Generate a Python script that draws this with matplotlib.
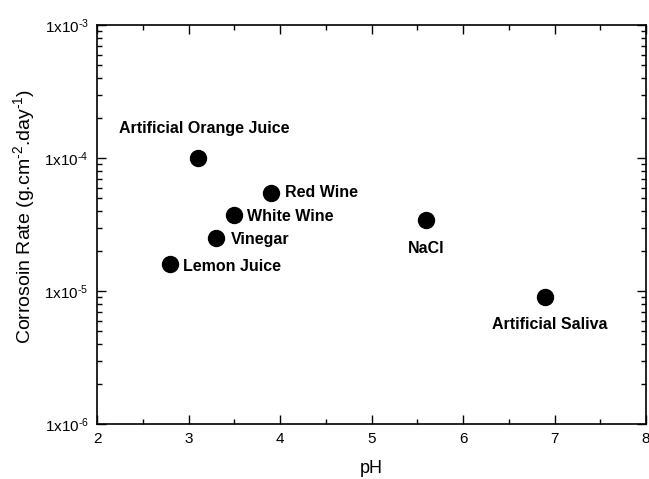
import matplotlib
matplotlib.use("Agg")
import matplotlib.pyplot as plt
from matplotlib.ticker import FixedLocator, FuncFormatter, LogLocator, MultipleLocator, NullFormatter
import numpy as np

plt.rcParams['font.family'] = ['Liberation Sans', 'DejaVu Sans']
plt.rcParams['mathtext.fontset'] = 'custom'
plt.rcParams['mathtext.rm'] = 'Liberation Sans'
plt.rcParams['mathtext.it'] = 'Liberation Sans'
plt.rcParams['mathtext.bf'] = 'Liberation Sans:bold'

# Solutions, their pH and measured corrosion rate (g.cm^-2.day^-1)
solutions = ["Artificial Orange Juice", "Red Wine", "White Wine", "Vinegar",
             "Lemon Juice", "NaCl", "Artificial Saliva"]
ph = [3.1, 3.9, 3.5, 3.3, 2.8, 5.6, 6.9]
rate = [1.0e-4, 5.5e-5, 3.7e-5, 2.5e-5, 1.6e-5, 3.4e-5, 9.0e-6]

# label offsets (points) and alignment for each annotation
offsets = [(5, 21), (10, 0), (9, -1), (11, -1), (9, -2), (0, -20), (3, -20)]
aligns = ["center", "left", "left", "left", "left", "center", "center"]

x_ticks = [2, 3, 4, 5, 6, 7, 8]
y_ticks = [1e-6, 1e-5, 1e-4, 1e-3]

fig = plt.figure(figsize=(6.49, 4.79), dpi=100)
ax = fig.add_axes([97 / 649, 55 / 479, 549 / 649, 399 / 479])

ax.plot(ph, rate, 'o', color='black', markersize=11.5, linestyle='none')

for name, x, y, off, ha in zip(solutions, ph, rate, offsets, aligns):
    ax.annotate(name, (x, y), xytext=off, textcoords='offset points',
                ha=ha, va='center', fontsize=11.5, fontweight='bold')

ax.set_yscale('log')
ax.set_xlim(2, 8)
ax.set_ylim(1e-6, 1e-3)

ax.xaxis.set_major_locator(FixedLocator(x_ticks))
ax.xaxis.set_minor_locator(MultipleLocator(0.5))
ax.yaxis.set_major_locator(FixedLocator(y_ticks))
ax.yaxis.set_minor_locator(LogLocator(base=10, subs=np.arange(2, 10)))
ax.yaxis.set_minor_formatter(NullFormatter())


def sci_label(v, pos):
    exp = int(round(np.log10(v)))
    return r"1x10$^{\text{-%d}}$" % abs(exp)


ax.yaxis.set_major_formatter(FuncFormatter(sci_label))

ax.tick_params(which='both', direction='in', top=True, right=True,
               labelsize=11, color='black', width=1)
ax.tick_params(which='major', length=6.5, pad=6)
ax.tick_params(which='minor', length=3.6)
ax.tick_params(axis='y', which='major', pad=6)

for s in ax.spines.values():
    s.set_linewidth(1.2)

ax.set_xlabel("pH", fontsize=13, labelpad=10)
ax.set_ylabel(r"Corrosoin Rate (g.cm$^{\text{-2}}$.day$^{\text{-1}}$)", fontsize=14)
ax.yaxis.set_label_coords(-0.11, 0.52)

fig.savefig("out.png", dpi=100)
